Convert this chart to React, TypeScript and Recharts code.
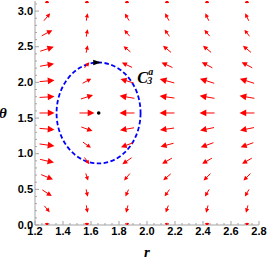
import React from 'react';
import { ScatterChart, Scatter, XAxis, YAxis, ReferenceArea, ReferenceDot } from 'recharts';

// grid of sample points (r columns, theta rows)
const rGrid = [1.286, 1.571, 1.857, 2.143, 2.429, 2.714];
const thetaGrid = [0, 0.224, 0.449, 0.673, 0.898, 1.122, 1.346, 1.571, 1.795, 2.02, 2.244, 2.468, 2.693, 2.917, 3.142];

// arrow directions (degrees, screen direction) per column, rows from theta=0 upward
const angleCol1 = [-90, -50, -33, -22, -13, -8, -5, 0, 3, 5, 10, 18, 28, 50, 90];
const angleCol2 = [-90, -80, -78, -72, -55, -36, -20, 0, 18, 28, 50, 78, 80, 80, 90];
const angleCol3 = [-90, -105, -115, -130, -145, -160, -170, 180, 170, 163, 155, 140, 130, 120, 90];
const angleCol4 = [-90, -110, -125, -140, -150, -165, -172, 180, 172, 165, 155, 140, 125, 118, 90];
const angleCol5 = [-90, -105, -120, -135, -150, -160, -168, 180, 170, 162, 152, 140, 130, 115, 90];
const angleCol6 = [-90, -105, -120, -135, -150, -160, -168, 180, 170, 162, 152, 140, 128, 115, 90];

// relative arrow magnitudes
const magCol1 = [0.3, 0.55, 0.75, 0.85, 0.95, 1, 1, 1, 1, 1, 0.95, 0.95, 0.8, 0.65, 0.3];
const magCol2 = [0.3, 0.5, 0.5, 0.5, 0.55, 0.65, 0.8, 1, 0.85, 0.65, 0.5, 0.5, 0.5, 0.5, 0.3];
const magCol3 = [0.3, 0.5, 0.5, 0.6, 0.75, 0.85, 0.95, 1, 1, 0.9, 0.75, 0.6, 0.55, 0.55, 0.3];
const magCol4 = [0.3, 0.5, 0.55, 0.65, 0.75, 0.9, 0.95, 1, 1, 1, 0.8, 0.7, 0.55, 0.55, 0.3];
const magCol5 = [0.3, 0.5, 0.55, 0.65, 0.75, 0.9, 0.95, 1, 1, 1, 0.8, 0.7, 0.55, 0.55, 0.3];
const magCol6 = [0.3, 0.5, 0.55, 0.65, 0.75, 0.9, 0.95, 1, 1, 1, 0.8, 0.7, 0.55, 0.55, 0.3];

const angleCols = [angleCol1, angleCol2, angleCol3, angleCol4, angleCol5, angleCol6];
const magCols = [magCol1, magCol2, magCol3, magCol4, magCol5, magCol6];

// closed orbit (limit cycle) bounds and centre
const orbitR = [1.354, 1.954];
const orbitTheta = [0.863, 2.279];
const centerR = 1.655;
const centerTheta = 1.571;
const orbitLabelR = 1.93;
const orbitLabelTheta = 1.997;

// ticks
const xMajorTicks = [1.2, 1.4, 1.6, 1.8, 2.0, 2.2, 2.4, 2.6, 2.8];
const xAllTicks = [1.2, 1.25, 1.3, 1.35, 1.4, 1.45, 1.5, 1.55, 1.6, 1.65, 1.7, 1.75, 1.8, 1.85, 1.9, 1.95, 2.0, 2.05, 2.1, 2.15, 2.2, 2.25, 2.3, 2.35, 2.4, 2.45, 2.5, 2.55, 2.6, 2.65, 2.7, 2.75, 2.8];
const yMajorTicks = [0, 0.5, 1.0, 1.5, 2.0, 2.5, 3.0];
const yAllTicks = [0, 0.1, 0.2, 0.3, 0.4, 0.5, 0.6, 0.7, 0.8, 0.9, 1.0, 1.1, 1.2, 1.3, 1.4, 1.5, 1.6, 1.7, 1.8, 1.9, 2.0, 2.1, 2.2, 2.3, 2.4, 2.5, 2.6, 2.7, 2.8, 2.9, 3.0, 3.1];

const arrowData = rGrid.flatMap((r, c) =>
  thetaGrid.map((theta, k) => ({ r, theta, ang: angleCols[c][k], mag: magCols[c][k] }))
);

const FRAME = '#a3a3a3';
const RED = '#ff0000';
const tickFont = { fontFamily: '"Liberation Sans", Arial, sans-serif', fontWeight: 700, fontSize: 11, fill: '#000' };

const isMajor = (v: number, majors: number[]) => majors.some((m) => Math.abs(m - v) < 1e-6);

const BottomTick = (props: any) => {
  const { x, y, payload } = props;
  const v = payload.value;
  const major = isMajor(v, xMajorTicks);
  return (
    <g>
      <line x1={x} x2={x} y1={y} y2={y - (major ? 4 : 2)} stroke={FRAME} strokeWidth={1} />
      {major && (
        <text x={x} y={y + 9.5} textAnchor="middle" style={tickFont}>
          {v.toFixed(1)}
        </text>
      )}
    </g>
  );
};

const TopTick = (props: any) => {
  const { x, y, payload } = props;
  const major = isMajor(payload.value, xMajorTicks);
  return <line x1={x} x2={x} y1={y} y2={y + (major ? 4 : 2)} stroke={FRAME} strokeWidth={1} />;
};

const LeftTick = (props: any) => {
  const { x, y, payload } = props;
  const v = payload.value;
  const major = isMajor(v, yMajorTicks);
  return (
    <g>
      <line x1={x} x2={x + (major ? 4 : 2)} y1={y} y2={y} stroke={FRAME} strokeWidth={1} />
      {major && (
        <text x={x - 2} y={y + 3.5} textAnchor="end" style={tickFont}>
          {v.toFixed(1)}
        </text>
      )}
    </g>
  );
};

const RightTick = (props: any) => {
  const { x, y, payload } = props;
  const major = isMajor(payload.value, yMajorTicks);
  return <line x1={x} x2={x - (major ? 4 : 2)} y1={y} y2={y} stroke={FRAME} strokeWidth={1} />;
};

const ArrowShape = (props: any) => {
  const { cx, cy, payload } = props;
  if (cx == null || cy == null) return <g />;
  const len = payload.mag * 15;
  const a = (payload.ang * Math.PI) / 180;
  const ux = Math.cos(a);
  const uy = -Math.sin(a);
  const tx = cx - (ux * len) / 2;
  const ty = cy - (uy * len) / 2;
  const hx = cx + (ux * len) / 2;
  const hy = cy + (uy * len) / 2;
  const hl = Math.max(4.2, len * 0.45);
  const hw = hl * 0.5;
  const bx = hx - ux * hl;
  const by = hy - uy * hl;
  const px = -uy;
  const py = ux;
  return (
    <g>
      <line x1={tx} y1={ty} x2={bx + ux * 1} y2={by + uy * 1} stroke={RED} strokeWidth={1} />
      <polygon
        points={`${hx},${hy} ${bx + px * hw},${by + py * hw} ${bx - px * hw},${by - py * hw}`}
        fill={RED}
      />
    </g>
  );
};

const EllipseShape = (props: any) => {
  const { x, y, width, height } = props;
  return (
    <ellipse
      cx={x + width / 2}
      cy={y + height / 2}
      rx={Math.abs(width) / 2}
      ry={Math.abs(height) / 2}
      fill="none"
      stroke="#0000ff"
      strokeWidth={1.8}
      strokeDasharray="4.5 2.5"
    />
  );
};

const OrbitHead = (props: any) => {
  const { cx, cy } = props;
  return <polygon points={`${cx + 2.5},${cy} ${cx - 5.5},${cy - 2.8} ${cx - 5.5},${cy + 2.8}`} fill="#000" />;
};

const OrbitLabel = (props: any) => {
  const { cx, cy } = props;
  const f = { fontFamily: '"Liberation Serif", "Times New Roman", serif', fontWeight: 700, fontStyle: 'italic', fill: '#000' };
  return (
    <g>
      <text x={cx} y={cy} style={{ ...f, fontSize: 16 }}>C</text>
      <text x={cx + 11} y={cy - 8} style={{ ...f, fontSize: 10 }}>a</text>
      <text x={cx + 10} y={cy + 1.5} style={{ ...f, fontSize: 10 }}>3</text>
    </g>
  );
};

const labelFont = { fontFamily: '"Liberation Serif", "Times New Roman", serif', fontWeight: 700, fontStyle: 'italic', fill: '#000' };

export default function App() {
  return (
    <div style={{ position: 'absolute', left: 0, top: 0 }}>
      <ScatterChart width={268} height={259} margin={{ top: 1, right: 9, bottom: 0, left: 0 }}>
        <XAxis
          xAxisId={0}
          dataKey="r"
          type="number"
          domain={[1.2, 2.8]}
          ticks={xAllTicks}
          interval={0}
          allowDataOverflow
          height={34}
          tickSize={0}
          tickMargin={0}
          tickLine={false}
          tick={<BottomTick />}
          axisLine={{ stroke: FRAME }}
          label={{ value: 'r', position: 'insideBottom', offset: 2, style: { ...labelFont, fontSize: 15 } }}
        />
        <XAxis
          xAxisId="top"
          orientation="top"
          type="number"
          domain={[1.2, 2.8]}
          ticks={xAllTicks}
          interval={0}
          allowDataOverflow
          height={0}
          tickSize={0}
          tickMargin={0}
          tickLine={false}
          tick={<TopTick />}
          axisLine={{ stroke: FRAME }}
        />
        <YAxis
          yAxisId={0}
          dataKey="theta"
          type="number"
          domain={[0, Math.PI]}
          ticks={yAllTicks}
          interval={0}
          allowDataOverflow
          width={35}
          tickSize={0}
          tickMargin={0}
          tickLine={false}
          tick={<LeftTick />}
          axisLine={{ stroke: FRAME }}
          label={{ value: 'θ', position: 'insideLeft', offset: -1, style: { ...labelFont, fontSize: 15 } }}
        />
        <YAxis
          yAxisId="right"
          orientation="right"
          type="number"
          domain={[0, Math.PI]}
          ticks={yAllTicks}
          interval={0}
          allowDataOverflow
          width={0}
          tickSize={0}
          tickMargin={0}
          tickLine={false}
          tick={<RightTick />}
          axisLine={{ stroke: FRAME }}
        />
        <Scatter data={arrowData} shape={<ArrowShape />} isAnimationActive={false} />
        <ReferenceArea
          x1={orbitR[0]}
          x2={orbitR[1]}
          y1={orbitTheta[0]}
          y2={orbitTheta[1]}
          shape={<EllipseShape />}
        />
        <ReferenceDot x={centerR} y={centerTheta} r={1.8} fill="#000" stroke="none" />
        <ReferenceDot x={centerR} y={orbitTheta[1]} shape={<OrbitHead />} />
        <ReferenceDot x={orbitLabelR} y={orbitLabelTheta} shape={<OrbitLabel />} />
      </ScatterChart>
    </div>
  );
}
